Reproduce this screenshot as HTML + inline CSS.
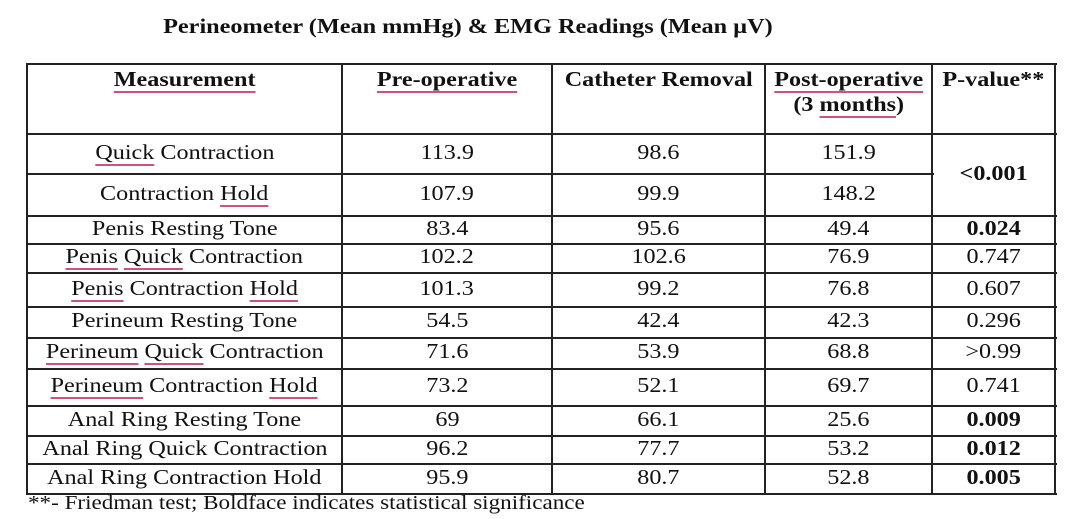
<!DOCTYPE html>
<html><head><meta charset="utf-8">
<style>
html,body{margin:0;padding:0;background:#fff;}
body{width:1080px;height:519px;position:relative;overflow:hidden;font-family:"Liberation Serif",serif;color:#111;}
.title{position:absolute;left:0;width:936px;top:14px;text-align:center;font-weight:bold;font-size:21px;}
.title span,.foot span{display:inline-block;transform:scaleX(1.155);}
.title span{transform-origin:center;}
.foot span{transform-origin:left;}
.cell{position:absolute;box-sizing:border-box;display:flex;justify-content:center;font-size:21px;text-align:center;line-height:25px;}
.cell .in{display:block;transform:scaleX(1.15);transform-origin:center;white-space:nowrap;}
.hl{position:absolute;height:2px;background:#222;}
.vl{position:absolute;width:2px;background:#222;}
.u{text-decoration:underline;text-decoration-color:#d2507a;text-decoration-thickness:2px;text-underline-offset:5px;}
.foot{position:absolute;left:28px;top:492px;font-size:20px;white-space:nowrap;}
</style></head><body>
<div class="title"><span>Perineometer (Mean mmHg) &amp; EMG Readings (Mean µV)</span></div>
<div id="tbl"></div>
<div class="foot"><span>**- Friedman test; Boldface indicates statistical significance</span></div>
<script>
const measurements = ["<span class='u'>Quick</span> Contraction","Contraction <span class='u'>Hold</span>","Penis Resting Tone","<span class='u'>Penis</span> <span class='u'>Quick</span> Contraction","<span class='u'>Penis</span> Contraction <span class='u'>Hold</span>","Perineum Resting Tone","<span class='u'>Perineum</span> <span class='u'>Quick</span> Contraction","<span class='u'>Perineum</span> Contraction <span class='u'>Hold</span>","Anal Ring Resting Tone","Anal Ring Quick Contraction","Anal Ring Contraction Hold"];
const preOp = ["113.9","107.9","83.4","102.2","101.3","54.5","71.6","73.2","69","96.2","95.9"];
const catheter = ["98.6","99.9","95.6","102.6","99.2","42.4","53.9","52.1","66.1","77.7","80.7"];
const postOp = ["151.9","148.2","49.4","76.9","76.8","42.3","68.8","69.7","25.6","53.2","52.8"];
const pValues = ["<0.001",null,"0.024","0.747","0.607","0.296",">0.99","0.741","0.009","0.012","0.005"];
const pBold = [true,false,true,false,false,false,false,false,true,true,true];

const cols=[27,342,552,765,932,1055];
const rows=[64,134,174,216,244,273,307,338,369,406,436,464,494];
const tbl=document.getElementById('tbl');
function esc(s){return s.replace(/&/g,'&amp;').replace(/</g,'&lt;').replace(/>/g,'&gt;');}
function cell(c0,c1,r0,r1,html,name,bold,top){
  const d=document.createElement('div');
  d.className='cell';
  
  
  d.style.left=cols[c0]+'px';d.style.width=(cols[c1]-cols[c0])+'px';
  d.style.top=rows[r0]+'px';d.style.height=(rows[r1]-rows[r0])+'px';
  if(top){d.style.alignItems='flex-start';d.style.paddingTop='3px';}
  else{d.style.alignItems='center';d.style.paddingBottom='4px';}
  if(bold)d.style.fontWeight='bold';
  d.innerHTML='<span class="in">'+html+'</span>';
  tbl.appendChild(d);
}
cell(0,1,0,1,"<span class='u'>Measurement</span>",'header-measurement',true,true);
cell(1,2,0,1,"<span class='u'>Pre-operative</span>",'header-pre-operative',true,true);
cell(2,3,0,1,"Catheter Removal",'header-catheter-removal',true,true);
cell(3,4,0,1,"<span class='u'>Post-operative</span><br>(3 <span class='u'>months</span>)",'header-post-operative',true,true);
cell(4,5,0,1,"P-value**",'header-p-value',true,true);
for(let i=0;i<measurements.length;i++){
  cell(0,1,i+1,i+2,measurements[i],'measurement-label',false,false);
  cell(1,2,i+1,i+2,esc(preOp[i]),'pre-operative-value',false,false);
  cell(2,3,i+1,i+2,esc(catheter[i]),'catheter-removal-value',false,false);
  cell(3,4,i+1,i+2,esc(postOp[i]),'post-operative-value',false,false);
  if(pValues[i]!==null){
    const span=(i+1<pValues.length&&pValues[i+1]===null)?2:1;
    cell(4,5,i+1,i+1+span,esc(pValues[i]),'p-value',pBold[i],false);
  }
}
for(let r=0;r<rows.length;r++){
  const h=document.createElement('div');h.className='hl';
  
  
  const right=(r===2)?cols[4]+2:cols[5]+2;
  h.style.left=cols[0]+'px';h.style.width=(right-cols[0])+'px';h.style.top=(rows[r]-1)+'px';tbl.appendChild(h);
}
for(let c=0;c<cols.length;c++){
  const v=document.createElement('div');v.className='vl';
  
  
  v.style.left=(cols[c]-1)+'px';v.style.top=(rows[0]-1)+'px';v.style.height=(rows[rows.length-1]-rows[0]+2)+'px';tbl.appendChild(v);
}
</script>
</body></html>
